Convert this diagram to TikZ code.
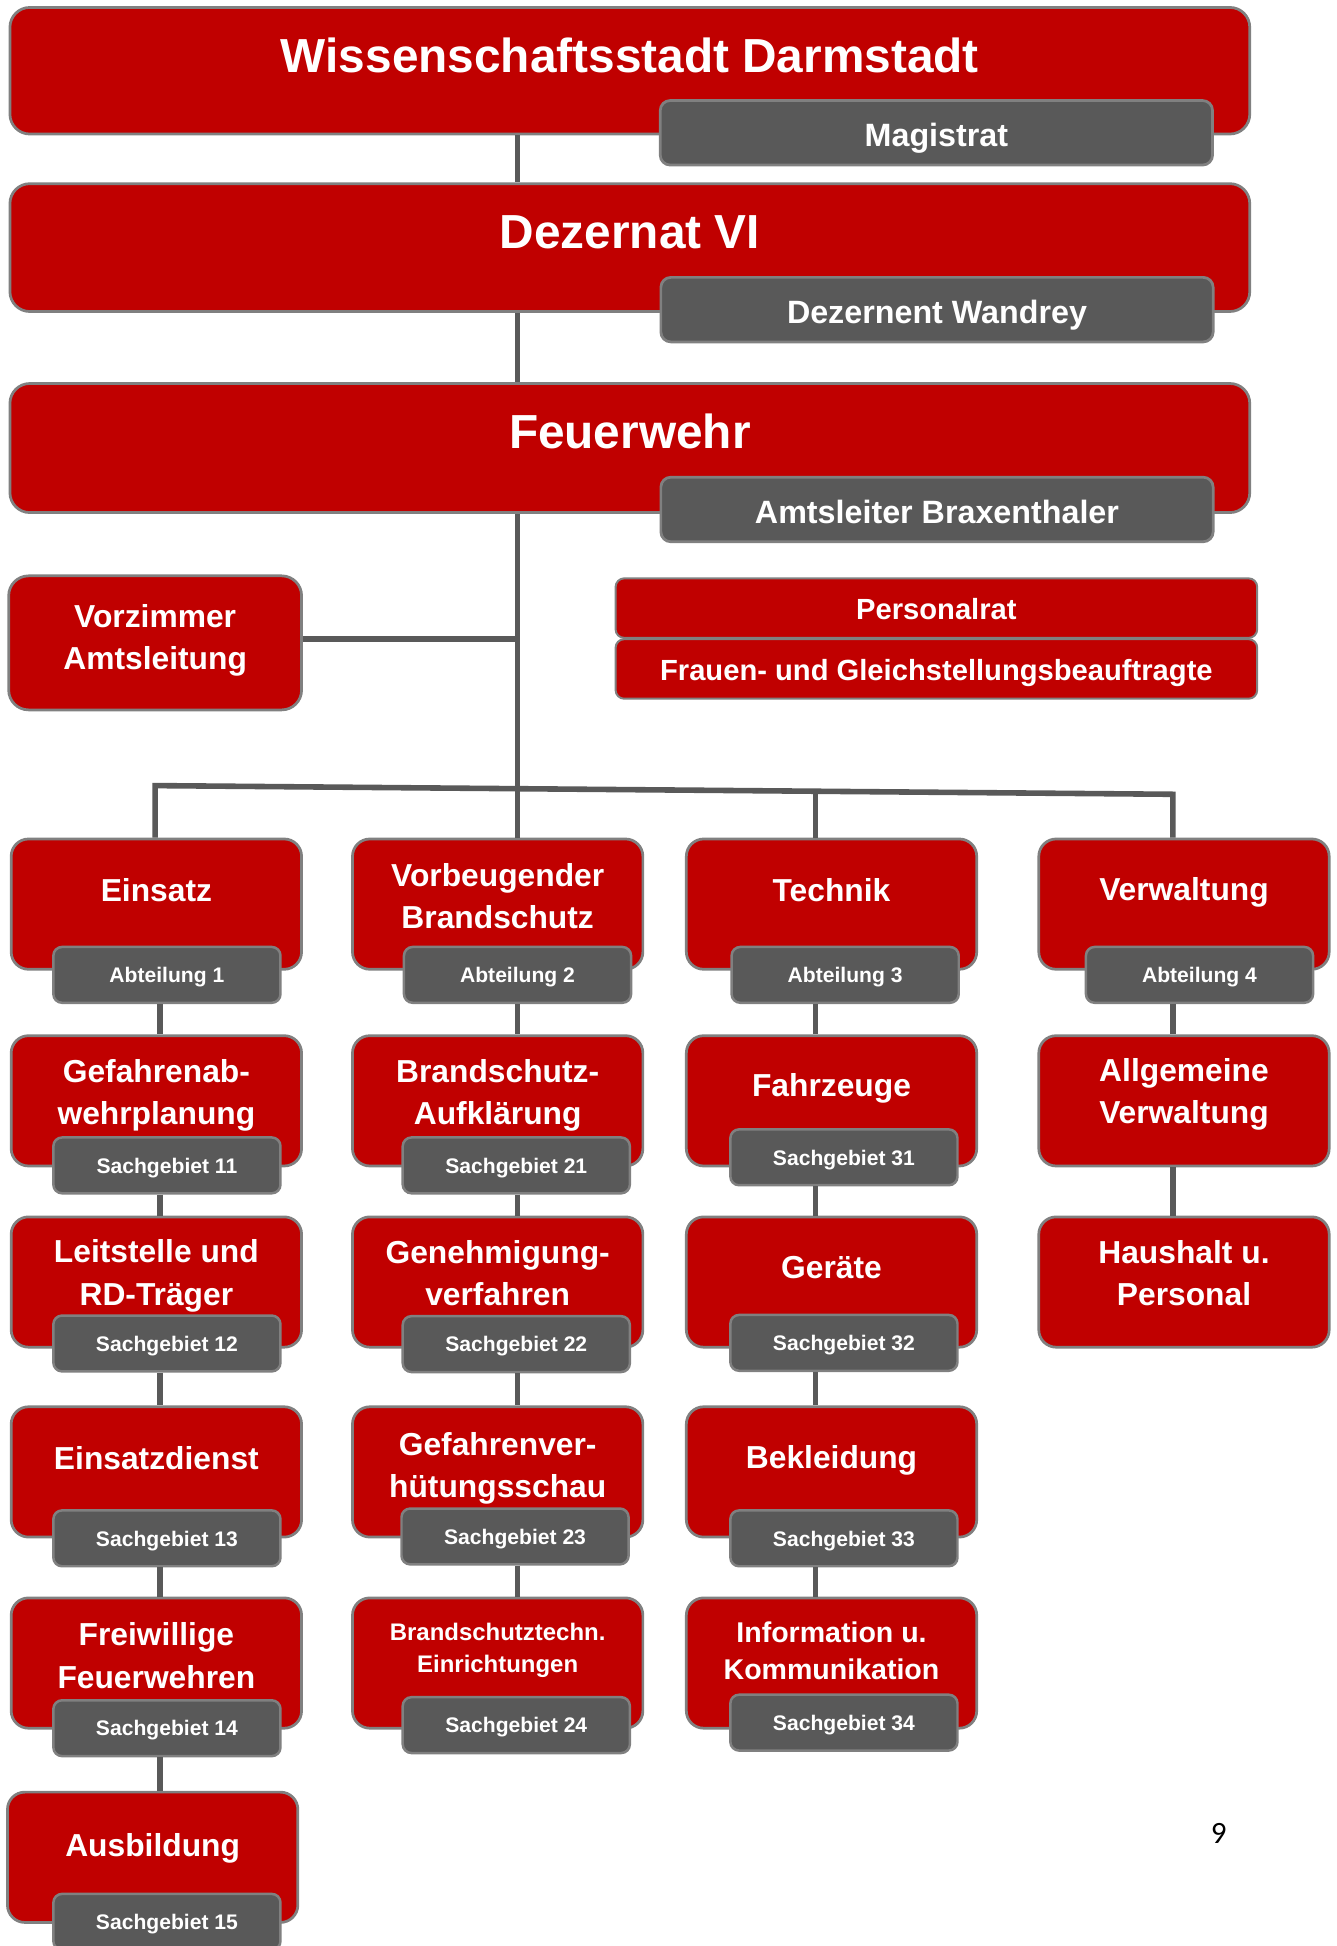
\documentclass[tikz,border=0pt]{standalone}
\usepackage{fontspec}
\usepackage{tikz}
\setmainfont{Liberation Sans}
\newfontfamily\pagefont{Carlito}

\definecolor{ffred}{RGB}{192,0,0}
\definecolor{ffgrey}{RGB}{89,89,89}
\definecolor{ffedge}{RGB}{128,128,128}

\tikzset{
  headbox/.style={draw=ffedge, fill=ffred, line width=2.2pt, rounded corners=16pt,
    minimum width=999pt, inner sep=0pt},
  deptbox/.style={draw=ffedge, fill=ffred, line width=2.2pt, rounded corners=14pt,
    minimum width=234pt, minimum height=105pt, inner sep=0pt},
  headtag/.style={draw=ffedge, fill=ffgrey, line width=2.2pt, rounded corners=8pt,
    minimum width=445pt, minimum height=52pt, text=white, text height=22.7pt, text depth=0pt,
    font=\bfseries\fontsize{26}{30}\selectfont},
  subtag/.style={draw=ffedge, fill=ffgrey, line width=2pt, rounded corners=7pt,
    minimum width=183pt, minimum height=45pt, text=white, text height=12.4pt, text depth=0pt,
    font=\bfseries\fontsize{17}{20}\selectfont},
  stripbox/.style={draw=ffedge, fill=ffred, line width=1.6pt, rounded corners=7pt,
    minimum width=517pt, minimum height=48pt, text=white, text height=18.9pt, text depth=0pt,
    font=\bfseries\fontsize{23.5}{28}\selectfont},
  bigtext/.style={text=white, font=\bfseries\fontsize{38.5}{46}\selectfont},
  depttext/.style={text=white, align=center, font=\bfseries\fontsize{25.6}{34}\selectfont},
  midtext/.style={depttext, font=\bfseries\fontsize{23}{30}\selectfont},
  smalltext/.style={depttext, font=\bfseries\fontsize{19.3}{26}\selectfont},
  conn/.style={draw=ffgrey, line width=4.5pt},
}

\begin{document}
\begin{tikzpicture}[x=1pt, y=-1pt]

  \fill[white] (0,0) rectangle (1077,1568);
  \useasboundingbox (0,0) rectangle (1077,1568);

  % Leitung
  \node[headbox, minimum height=102pt,
    label={[bigtext, yshift=12pt]center:Wissenschaftsstadt Darmstadt}] (wd) at (507.5,57) {};
  \node[headtag] (mag) at (754.5,107) {Magistrat};
  \node[headbox, minimum height=103pt,
    label={[bigtext, yshift=12.5pt]center:Dezernat VI}] (dz) at (507.5,199.5) {};
  \node[headtag] (dzt) at (755,249.5) {Dezernent Wandrey};
  \node[headbox, minimum height=104pt,
    label={[bigtext, yshift=13pt]center:Feuerwehr}] (fw) at (507.5,361) {};
  \node[headtag] (fwt) at (755,410.5) {Amtsleiter Braxenthaler};

  \node[deptbox, minimum width=236pt, minimum height=108pt, rounded corners=16pt,
    label={[depttext, yshift=2pt]center:Vorzimmer\\Amtsleitung}] (vz) at (125,518) {};
  \node[stripbox] (pr) at (754.5,490) {Personalrat};
  \node[stripbox] (fg) at (754.5,539) {Frauen- und Gleichstellungsbeauftragte};

  % Abteilungen
  \node[deptbox, label={[depttext, yshift=11.5pt]center:Einsatz}] (a1) at (126,728.5) {};
  \node[deptbox, label={[depttext, yshift=6.5pt]center:Vorbeugender\\Brandschutz}] (a2) at (401,728.5) {};
  \node[deptbox, label={[depttext, yshift=11.5pt]center:Technik}] (a3) at (670,728.5) {};
  \node[deptbox, label={[depttext, yshift=9.5pt]center:Verwaltung}] (a4) at (954,728.5) {};
  \node[subtag] (a1t) at (134.5,785.5) {Abteilung 1};
  \node[subtag] (a2t) at (417,785.5) {Abteilung 2};
  \node[subtag] (a3t) at (681,785.5) {Abteilung 3};
  \node[subtag] (a4t) at (966.5,785.5) {Abteilung 4};

  % Sachgebiete, Reihe 1
  \node[deptbox, label={[depttext, yshift=4.5pt]center:Gefahrenab-\\wehrplanung}] (s11) at (126,887) {};
  \node[deptbox, label={[depttext, yshift=4.5pt]center:Brandschutz-\\Aufklärung}] (s21) at (401,887) {};
  \node[deptbox, label={[depttext, yshift=10pt]center:Fahrzeuge}] (s31) at (670,887) {};
  \node[deptbox, label={[depttext, yshift=5pt]center:Allgemeine\\Verwaltung}] (s41) at (954,887) {};
  \node[subtag] (s11t) at (134.5,939) {Sachgebiet 11};
  \node[subtag] (s21t) at (416,939) {Sachgebiet 21};
  \node[subtag] (s31t) at (680,932.5) {Sachgebiet 31};

  % Reihe 2
  \node[deptbox, label={[depttext, yshift=5pt]center:Leitstelle und\\RD-Träger}] (s12) at (126,1033) {};
  \node[deptbox, label={[depttext, yshift=7pt]center:Genehmigung-\\verfahren}] (s22) at (401,1033) {};
  \node[deptbox, label={[depttext, yshift=12pt]center:Geräte}] (s32) at (670,1033) {};
  \node[deptbox, label={[depttext, yshift=7pt]center:Haushalt u.\\Personal}] (s42) at (954,1033) {};
  \node[subtag] (s12t) at (134.5,1082.5) {Sachgebiet 12};
  \node[subtag] (s22t) at (416,1083) {Sachgebiet 22};
  \node[subtag] (s32t) at (680,1082) {Sachgebiet 32};

  % Reihe 3
  \node[deptbox, label={[depttext, yshift=11pt]center:Einsatzdienst}] (s13) at (126,1186) {};
  \node[deptbox, label={[depttext, yshift=3pt]center:Gefahrenver-\\hütungsschau}] (s23) at (401,1186) {};
  \node[deptbox, label={[depttext, yshift=9pt]center:Bekleidung}] (s33) at (670,1186) {};
  \node[subtag] (s13t) at (134.5,1239.5) {Sachgebiet 13};
  \node[subtag] (s23t) at (415,1238) {Sachgebiet 23};
  \node[subtag] (s33t) at (680,1239.5) {Sachgebiet 33};

  % Reihe 4
  \node[deptbox, label={[depttext, yshift=6pt]center:Freiwillige\\Feuerwehren}] (s14) at (126,1340) {};
  \node[deptbox, label={[smalltext, yshift=10pt]center:Brandschutztechn.\\Einrichtungen}] (s24) at (401,1340) {};
  \node[deptbox, label={[midtext, yshift=10pt]center:Information u.\\Kommunikation}] (s34) at (670,1340) {};
  \node[subtag] (s14t) at (134.5,1392.5) {Sachgebiet 14};
  \node[subtag] (s24t) at (416,1390) {Sachgebiet 24};
  \node[subtag] (s34t) at (680,1388) {Sachgebiet 34};

  % Reihe 5
  \node[deptbox, label={[depttext, yshift=7.5pt]center:Ausbildung}] (s15) at (123,1496.5) {};
  \node[subtag] (s15t) at (134.5,1548.5) {Sachgebiet 15};

  \node[font=\pagefont\fontsize{25}{30}\selectfont] (pnum) at (982,1477) {9};

  % Linien
  \coordinate (c1) at (129,0);
  \coordinate (c2) at (417,0);
  \coordinate (c3) at (657,0);
  \coordinate (c4) at (945,0);
  \coordinate (busl) at (125,633);
  \coordinate (busm) at (417,635.5);
  \coordinate (bus3) at (657,637.5);
  \coordinate (busr) at (945,640);
  \coordinate (vzout) at ([yshift=3pt]vz.east);

  \draw[conn] (c2 |- wd.south) -- (c2 |- dz.north);
  \draw[conn] (c2 |- dz.south) -- (c2 |- fw.north);
  \draw[conn] (c2 |- fw.south) -- (busm);
  \draw[conn] (vzout) -- (c2 |- vzout);
  \draw[conn] (busl |- a1.north) -- (busl) -- (busr) -- (busr |- a4.north);
  \draw[conn] (busm) -- (c2 |- a2.north);
  \draw[conn] (bus3) -- (c3 |- a3.north);

  \draw[conn] (c1 |- a1t.south) -- (c1 |- s11.north);
  \draw[conn] (c1 |- s11t.south) -- (c1 |- s12.north);
  \draw[conn] (c1 |- s12t.south) -- (c1 |- s13.north);
  \draw[conn] (c1 |- s13t.south) -- (c1 |- s14.north);
  \draw[conn] (c1 |- s14t.south) -- (c1 |- s15.north);

  \draw[conn] (c2 |- a2t.south) -- (c2 |- s21.north);
  \draw[conn] (c2 |- s21t.south) -- (c2 |- s22.north);
  \draw[conn] (c2 |- s22t.south) -- (c2 |- s23.north);
  \draw[conn] (c2 |- s23t.south) -- (c2 |- s24.north);

  \draw[conn] (c3 |- a3t.south) -- (c3 |- s31.north);
  \draw[conn] (c3 |- s31t.south) -- (c3 |- s32.north);
  \draw[conn] (c3 |- s32t.south) -- (c3 |- s33.north);
  \draw[conn] (c3 |- s33t.south) -- (c3 |- s34.north);

  \draw[conn] (c4 |- a4t.south) -- (c4 |- s41.north);
  \draw[conn] (c4 |- s41.south) -- (c4 |- s42.north);
\end{tikzpicture}
\end{document}
